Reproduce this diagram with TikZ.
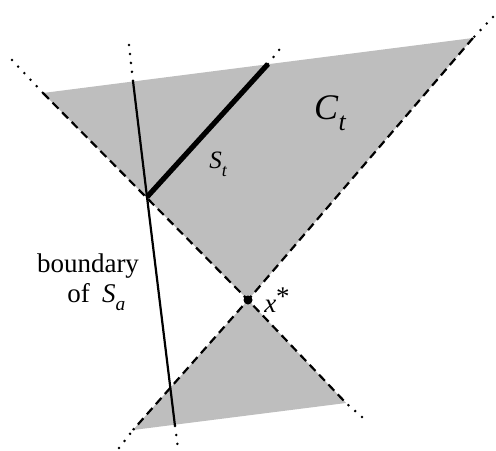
\documentclass[tikz,border=0pt]{standalone}
\usepackage{fontspec}
\setmainfont{Liberation Serif}
\newcommand\lowsub[1]{\raisebox{-0.32em}{\fontsize{0.72em}{1em}\selectfont\itshape #1}}
\begin{document}
\begin{tikzpicture}[x=0.5pt,y=-0.5pt,
  conefill/.style={fill={rgb,255:red,190;green,190;blue,190}},
  coneedge/.style={line width=1.1pt,dash pattern=on 4.2pt off 2.6pt},
  dotline/.style={line width=1.4pt,line cap=round,dash pattern=on 0pt off 4.5pt},
  bdline/.style={line width=1.1pt},
  stline/.style={line width=2.6pt},
  lbl/.style={inner sep=0pt}]
\useasboundingbox (0,0) rectangle (496,450);
% key points
\coordinate (TL) at (43,93);
\coordinate (TR) at (473,38);
\coordinate (X) at (248,300);
\coordinate (BL) at (133,430);
\coordinate (BR) at (346,403);
\coordinate (TLd) at (12,60);
\coordinate (TRd) at (493,17);
\coordinate (BLd) at (119,448);
\coordinate (BRd) at (362,417);
\coordinate (A0) at (129,45);
\coordinate (A1) at (133,81);
\coordinate (K) at (147,197);
\coordinate (A2) at (175,426);
\coordinate (A3) at (178,448);
\coordinate (T1) at (268,64);
\coordinate (T2) at (283,45);
% shaded cones
\fill[conefill] (TL) -- (TR) -- (X) -- cycle;
\fill[conefill] (X) -- (BR) -- (BL) -- cycle;
% cone edges
\draw[coneedge] (TL) -- (X) -- (BR);
\draw[coneedge] (TR) -- (X) -- (BL);
\draw[dotline] (TLd) -- (TL);
\draw[dotline] (TRd) -- (TR);
\draw[dotline] (BLd) -- (BL);
\draw[dotline] (BRd) -- (BR);
% boundary of S_a
\draw[bdline] (A1) -- (K) -- (A2);
\draw[dotline] (A0) -- (A1);
\draw[dotline] (A2) -- (A3);
% S_t
\draw[stline] (K) -- (T1);
\draw[dotline] (T1) -- (T2);
% x*
\fill (X) circle (4.5);
% labels
\node[lbl,font=\fontsize{18}{20}\selectfont] (Ct) at (330,113) {\textit{C}\lowsub{t}};
\node[lbl,font=\fontsize{12.5}{14}\selectfont] (St) at (218,164) {\textit{S}\lowsub{t}};
\node[lbl,font=\fontsize{13.5}{15}\selectfont,anchor=base] (bd) at (88,272) {boundary};
\node[lbl,font=\fontsize{13.5}{15}\selectfont,anchor=base west] (of) at (67,302) {of\hspace{0.45em}\textit{S}\lowsub{a}};
\node[lbl,font=\fontsize{13.5}{15}\selectfont] (xs) at (277,300) {\textit{x}\raisebox{0.25em}{*}};
\end{tikzpicture}
\end{document}
